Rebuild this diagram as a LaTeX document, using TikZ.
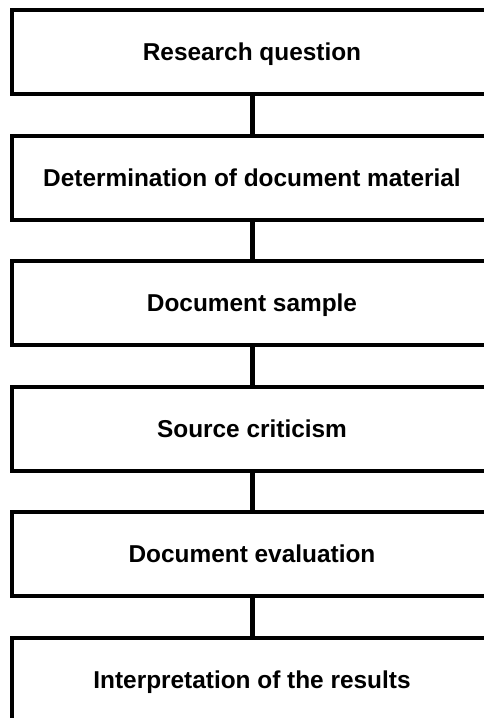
\documentclass[tikz,border=0pt]{standalone}
\usepackage{fontspec}
\setmainfont{Liberation Sans}
\begin{document}
\begin{tikzpicture}[x=1pt,y=-1pt,
  stagebox/.style={draw=black, line width=4pt, rectangle, minimum width=480pt, minimum height=84pt, inner sep=0pt, text height=17.5pt, text depth=0pt, font=\fontsize{24.4}{28}\selectfont\bfseries, fill=white},
  link/.style={draw=black, line width=5pt}]
\useasboundingbox (0,0) rectangle (484,718);
\node[stagebox] (b1) at (252,52) {Research question};
\node[stagebox] (b2) at (252,177.5) {Determination of document material};
\node[stagebox] (b3) at (252,303) {Document sample};
\node[stagebox] (b4) at (252,428.5) {Source criticism};
\node[stagebox] (b5) at (252,554) {Document evaluation};
\node[stagebox] (b6) at (252,679.5) {Interpretation of the results};
\foreach \a/\b in {b1/b2,b2/b3,b3/b4,b4/b5,b5/b6}{
  \draw[link] (\a.south) -- (\b.north);
}
\end{tikzpicture}
\end{document}
